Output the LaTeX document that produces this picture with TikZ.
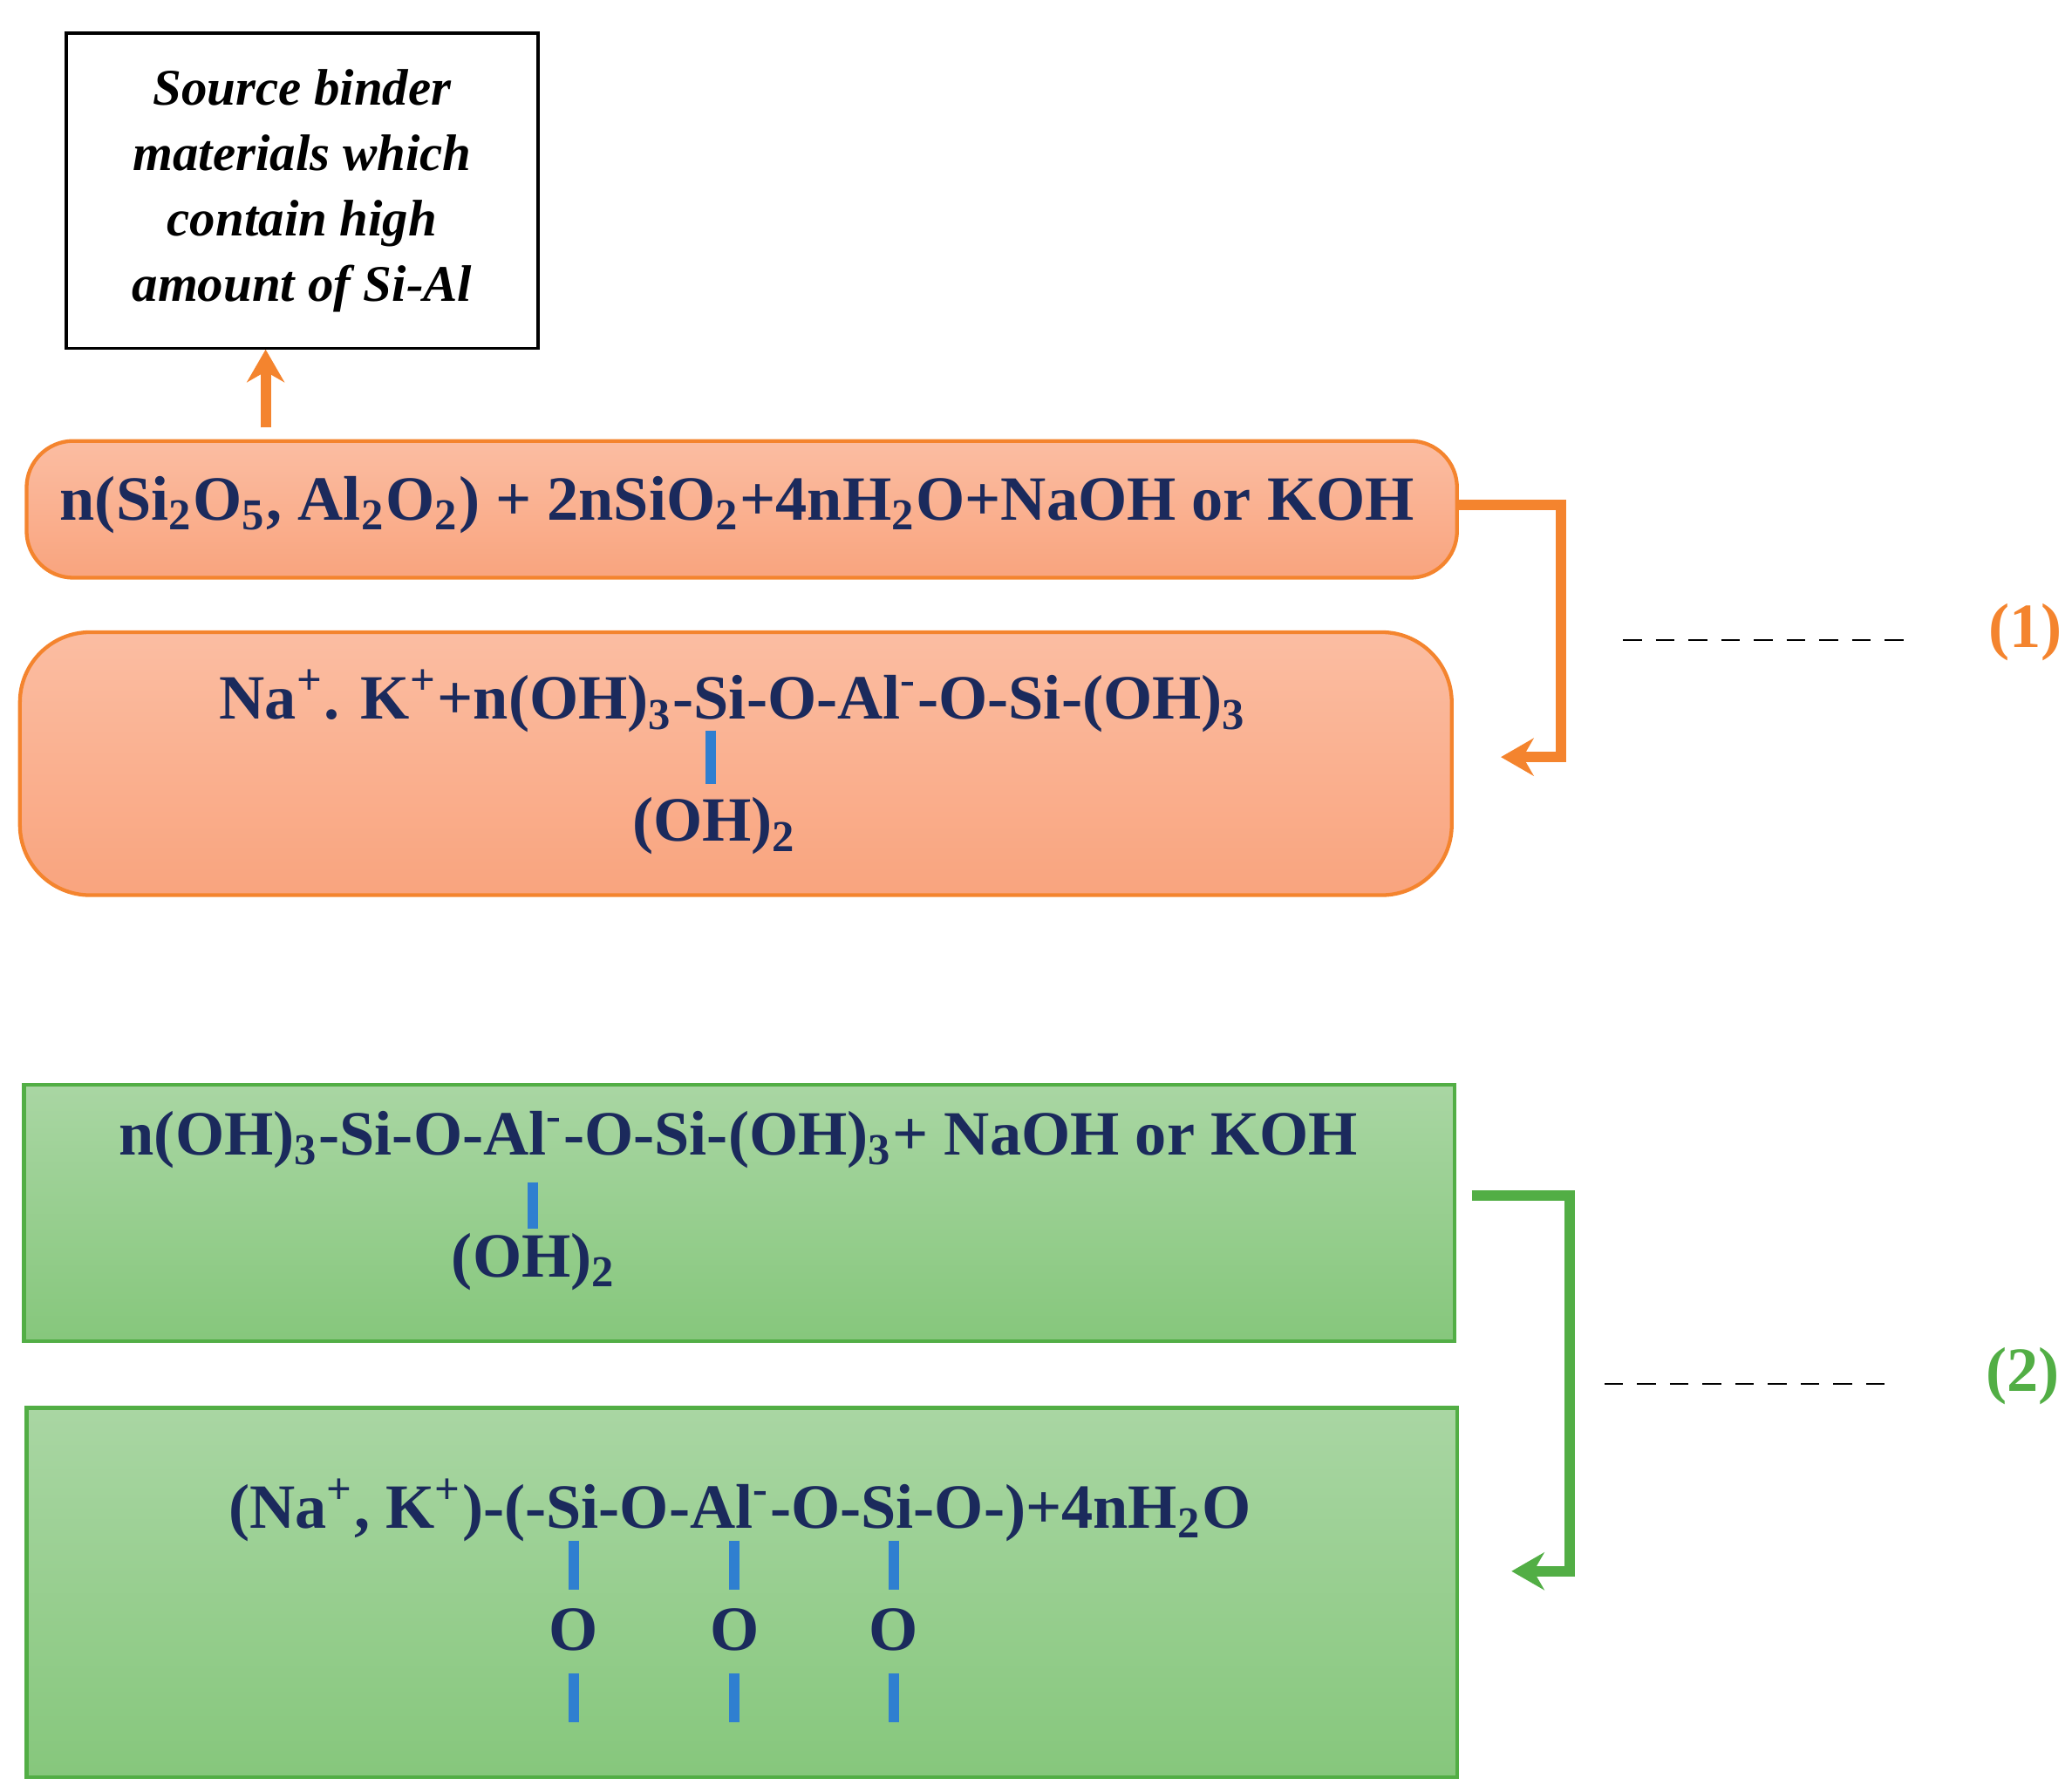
\documentclass[tikz,border=0pt]{standalone}
\usepackage{fontspec}
\setmainfont{Liberation Serif}
\usetikzlibrary{calc,positioning,arrows.meta}
\definecolor{navy}{HTML}{1B2A5C}
\definecolor{orline}{HTML}{F4842E}
\definecolor{ortop}{HTML}{FBBDA2}
\definecolor{orbot}{HTML}{F9A47E}
\definecolor{grline}{HTML}{52AE45}
\definecolor{grtop}{HTML}{A9D6A3}
\definecolor{grbot}{HTML}{86C77C}
\definecolor{bond}{HTML}{2F7FD0}
\tikzstyle{orangebox}=[rectangle,draw=orline,top color=ortop,bottom color=orbot,
                       rounded corners=10pt,line width=0.8pt]
\tikzstyle{greenbox}=[rectangle,draw=grline,top color=grtop,bottom color=grbot,
                      line width=0.8pt]
\tikzstyle{chem}=[text=navy,font=\fontsize{13.5}{16}\selectfont\bfseries,inner sep=0pt]
\tikzstyle{bondline}=[draw=bond,line width=2.2pt]
\newcommand\subs[1]{\textsubscript{#1}}
\newcommand\sups[1]{\textsuperscript{#1}}
\begin{document}
\begin{tikzpicture}[x=0.01cm,y=-0.01cm]
    \useasboundingbox (0,0) rectangle (1560,1349);
    % source box
    \node [draw=black,line width=0.6pt,minimum width=3.55cm,minimum height=2.37cm,
           align=center,font=\fontsize{11}{14}\selectfont\bfseries\itshape]
        (source) at (227.5,143.5) {Source binder\\materials which\\contain high\\amount of Si-Al};
    \coordinate (up) at (200,322);
    \draw [orline,line width=2.2pt,-{Stealth[length=7pt,width=8pt]}] (up) -- (up|-source.south);
    % step (1)
    \path [orangebox] (20,332) rectangle (1097,435);
    \node [chem] (eq1) at (555,380) {n(Si\subs2O\subs5, Al\subs2O\subs2) + 2nSiO\subs2+4nH\subs2O+NaOH or KOH};
    \path [orangebox,rounded corners=15pt] (15,476) rectangle (1093,674);
    \node [chem] (eq2) at (552,528) {Na\sups+. K\sups++n(OH)\subs3-Si-O-Al\sups--O-Si-(OH)\subs3};
    \node [chem] (oh1) at (538,622) {(OH)\subs2};
    \draw [bondline] (535,550) -- (535,590);
    \coordinate (c1a) at (1097,380);
    \coordinate (c1b) at (1130,570);
    \draw [orline,line width=2.2pt,-{Stealth[length=7pt,width=8pt]}]
        (c1a) -- (1175,380) -- (1175,570) -- (c1b);
    \coordinate (d1a) at (1222,482);
    \coordinate (d1b) at (1442,482);
    \draw [dash pattern=on 4pt off 3pt] (d1a) -- (d1b);
    \node [text=orline,font=\fontsize{13.5}{16}\selectfont\bfseries] (lab1) at (1525,476) {(1)};
    % step (2)
    \path [greenbox] (18,817) rectangle (1095,1010);
    \node [chem] (eq3) at (556,858) {n(OH)\subs3-Si-O-Al\sups--O-Si-(OH)\subs3+ NaOH or KOH};
    \node [chem] (oh2) at (402,950) {(OH)\subs2};
    \draw [bondline] (401,890) -- (401,925);
    \path [greenbox] (20,1060) rectangle (1097,1338);
    \node [chem] (eq4) at (557,1137) {(Na\sups+, K\sups+)-(-Si-O-Al\sups--O-Si-O-)+4nH\subs2O};
    \foreach \x/\nm in {432/oa,553/ob,673/oc}{
        \node [chem] (\nm) at (\x,1227) {O};
        \draw [bondline] (\x,1160) -- (\x,1197);
        \draw [bondline] (\x,1260) -- (\x,1297);
    }
    \coordinate (c2a) at (1108,900);
    \coordinate (c2b) at (1138,1183);
    \draw [grline,line width=2.2pt,-{Stealth[length=7pt,width=8pt]}]
        (c2a) -- (1182,900) -- (1182,1183) -- (c2b);
    \coordinate (d2a) at (1208,1042);
    \coordinate (d2b) at (1428,1042);
    \draw [dash pattern=on 4pt off 3pt] (d2a) -- (d2b);
    \node [text=grline,font=\fontsize{13.5}{16}\selectfont\bfseries] (lab2) at (1523,1036) {(2)};
\end{tikzpicture}
\end{document}
